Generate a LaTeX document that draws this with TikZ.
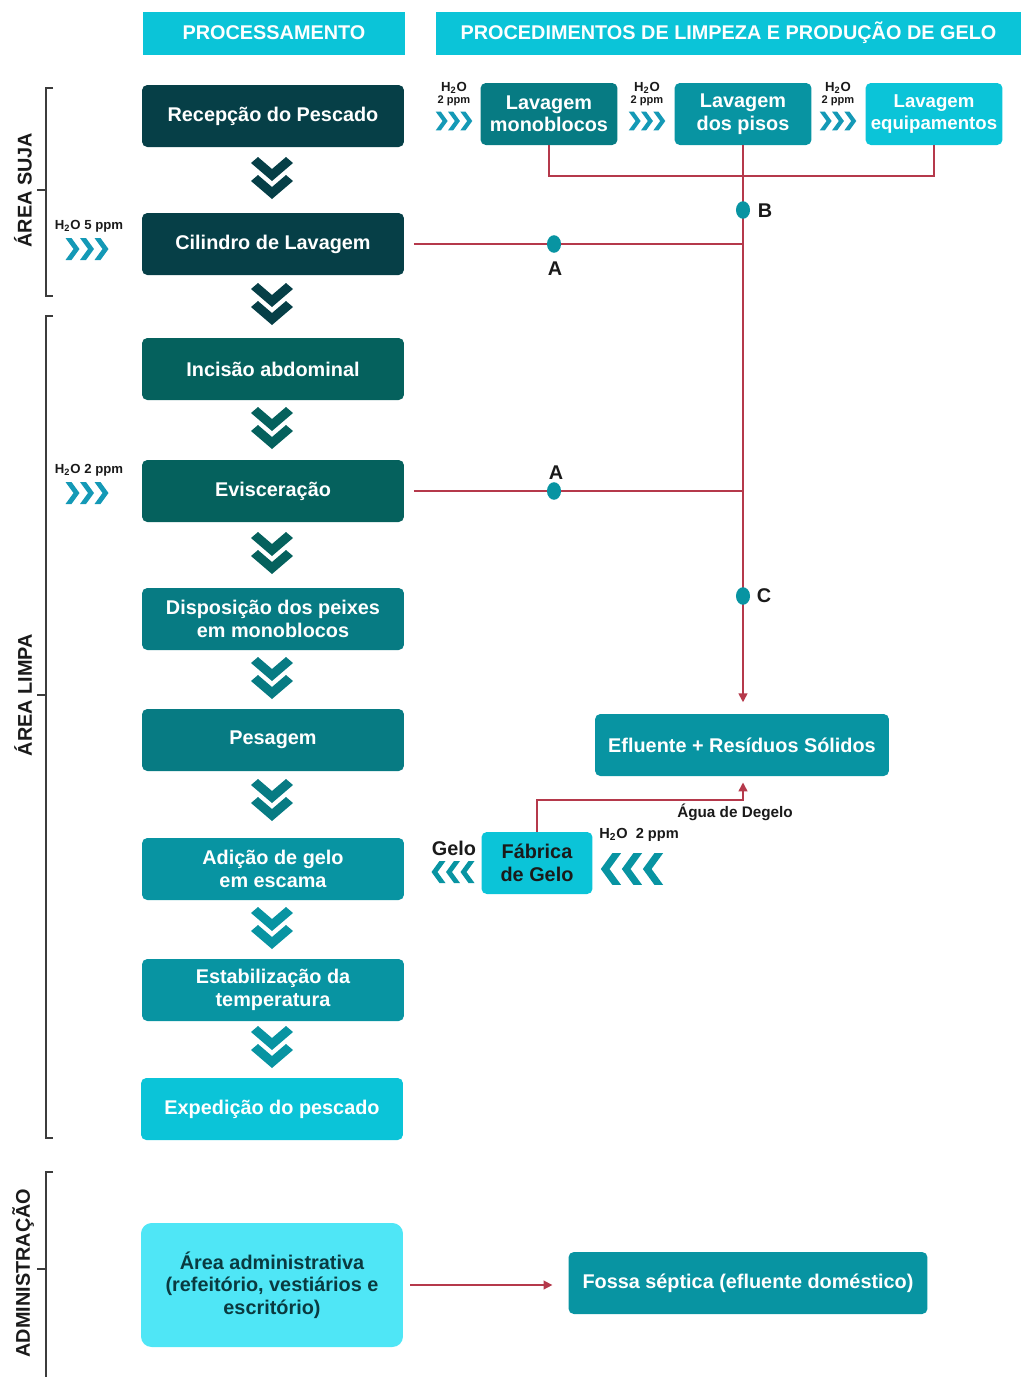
\documentclass[tikz,border=0pt]{standalone}
\usepackage{fontspec}
\setmainfont{Liberation Sans}
\usetikzlibrary{arrows.meta,shapes.geometric}
\definecolor{deep}{HTML}{063F47}
\definecolor{pine}{HTML}{05615D}
\definecolor{lagoon}{HTML}{077B83}
\definecolor{sea}{HTML}{0894A2}
\definecolor{aqua}{HTML}{0BC4D8}
\definecolor{sky}{HTML}{4FE6F6}
\definecolor{chev}{HTML}{1499B6}
\definecolor{wine}{HTML}{B5394B}
\definecolor{ink}{HTML}{1A1A1A}
\definecolor{inkteal}{HTML}{0A3A40}

\begin{document}
\begin{tikzpicture}[x=0.02cm,y=-0.02cm,
  txt/.style={font=\bfseries\fontsize{11.3}{12.8}\selectfont},
  box/.style={txt,rounded corners=3pt,align=center,text=white,inner sep=0pt,minimum width=5.24cm,minimum height=1.24cm},
  tbox/.style={box,minimum width=2.74cm},
  head/.style={txt,fill=aqua,text=white,inner sep=0pt,minimum height=0.86cm},
  lbl/.style={txt,text=ink,inner sep=0pt},
  small/.style={font=\bfseries\fontsize{7.5}{8}\selectfont,text=ink,inner sep=0pt,align=center},
  side/.style={txt,rotate=90,text=ink,inner sep=0pt},
  redline/.style={wine,line width=0.9pt},
  tip/.style={-{Triangle[length=5pt,width=5pt]}},
  dot/.style={ellipse,fill=sea,inner sep=0pt,minimum width=8pt,minimum height=10pt},
  bracket/.style={draw=ink!85,line width=0.6pt},
  dchev/.pic={\foreach \d in {-9,9}
    \fill[pic actions] (-21,\d-6) -- (-14,\d-12) -- (0,\d) -- (14,\d-12) -- (21,\d-6) -- (0,\d+12) -- cycle;},
  tchev/.pic={\foreach \i in {0,1,2}
    \fill[pic actions] ({\i*14.5-21.5},-11) -- ++(6,0) -- ++(8,11) -- ++(-8,11) -- ++(-6,0) -- ++(8,-11) -- cycle;}]
\useasboundingbox (0,0) rectangle (1021,1377);

% headers
\node[head,minimum width=5.24cm] (hproc) at (274,33) {PROCESSAMENTO};
\node[head,minimum width=11.7cm] (hlimp) at (728.5,33) {PROCEDIMENTOS DE LIMPEZA E PRODUÇÃO DE GELO};

% processing line
\node[box,fill=deep] (rec) at (273,116) {Recepção do Pescado};
\node[box,fill=deep] (cil) at (273,244) {Cilindro de Lavagem};
\node[box,fill=pine] (inc) at (273,369) {Incisão abdominal};
\node[box,fill=pine] (evi) at (273,491) {Evisceração};
\node[box,fill=lagoon] (dis) at (273,619) {Disposição dos peixes\\em monoblocos};
\node[box,fill=lagoon] (pes) at (273,740) {Pesagem};
\node[box,fill=sea] (adi) at (273,869) {Adição de gelo\\em escama};
\node[box,fill=sea] (est) at (273,990) {Estabilização da\\temperatura};
\node[box,fill=aqua] (exped) at (272,1109) {Expedição do pescado};
\foreach \y/\c in {178/deep,304/deep,428/pine,553/pine,678/lagoon,800/lagoon,928/sea,1047/sea}
  \pic[fill=\c] at (272,\y) {dchev};

\node[small] (w5) at (89,226) {H\textsubscript{2}O 5 ppm};
\pic[fill=chev] at (87,249) {tchev};
\node[small] (w2) at (89,470) {H\textsubscript{2}O 2 ppm};
\pic[fill=chev] at (87,493) {tchev};

% cleaning
\node[tbox,fill=lagoon] (mono) at (549,114) {Lavagem\\monoblocos};
\node[tbox,fill=sea] (pisos) at (743,114) {Lavagem\\dos pisos};
\node[tbox,fill=aqua,font=\bfseries\fontsize{10.6}{12.8}\selectfont] (equip) at (934,114) {Lavagem\\equipamentos};
\foreach \x in {454,647,838}{
  \node[small] (w\x) at (\x,94) {H\textsubscript{2}O\\[-1pt]{\fontsize{6.3}{7}\selectfont 2 ppm}};
  \pic[fill=chev,scale=.85] at (\x,121) {tchev};
}

\node[box,fill=sea,minimum width=5.88cm] (eflu) at (742,745) {Efluente + Resíduos Sólidos};
\node[box,fill=aqua,text=ink,minimum width=2.22cm] (fab) at (537,863) {Fábrica\\de Gelo};
\node[lbl] (gelo) at (454,848) {Gelo};
\pic[fill=sea,xscale=-1] at (453,872) {tchev};
\node[small,font=\bfseries\fontsize{8.3}{9}\selectfont] (wfab) at (639,835) {H\textsubscript{2}O\ \ 2 ppm};
\pic[fill=sea,scale=1.45,xscale=-1] at (632,869) {tchev};
\node[lbl,font=\bfseries\fontsize{8.7}{9}\selectfont] (degelo) at (735,812) {Água de Degelo};

% effluent lines
\coordinate (jtop) at (743,176);
\coordinate (jdeg) at (743,800);
\draw[redline] (mono.south) |- (jtop) -| (equip.south);
\draw[redline,tip,shorten >=6.5pt] (pisos.south) -- (pisos.south |- eflu.north);
\draw[redline,shorten <=5.5pt] (cil.east) -- (cil.east -| pisos.south);
\draw[redline,shorten <=5.5pt] (evi.east) -- (evi.east -| pisos.south);
\draw[redline,tip,shorten >=3.5pt] (fab.north) |- (jdeg) -- (jdeg |- eflu.south);
\node[dot] (dA1) at (554,244) {};
\node[lbl] (lA1) at (555,269) {A};
\node[dot] (dA2) at (554,491) {};
\node[lbl] (lA2) at (556,473) {A};
\node[dot] (dB) at (743,210) {};
\node[lbl] (lB) at (765,211) {B};
\node[dot] (dC) at (743,596) {};
\node[lbl] (lC) at (764,596) {C};

% administration
\node[box,fill=sky,text=inkteal,minimum height=2.48cm,rounded corners=6pt] (adm) at (272,1285) {Área administrativa\\(refeitório, vestiários e\\escritório)};
\node[box,fill=sea,minimum width=7.18cm] (fossa) at (748,1283) {Fossa séptica (efluente doméstico)};
\draw[redline,tip,shorten <=4pt,shorten >=9pt] (adm.east) -- (adm.east -| fossa.west);

% area brackets
\node[side] (suja) at (23,190) {ÁREA SUJA};
\node[side] (limpa) at (23,695) {ÁREA LIMPA};
\node[side] (admin) at (23,1273) {ADMINISTRAÇÃO};
\draw[bracket] (53,88) -- (46,88) -- (46,296) -- (53,296) (37,190) -- (46,190);
\draw[bracket] (53,316) -- (46,316) -- (46,1138) -- (53,1138) (37,695) -- (46,695);
\draw[bracket] (53,1172) -- (46,1172) -- (46,1377) (37,1269) -- (46,1269);
\end{tikzpicture}
\end{document}
